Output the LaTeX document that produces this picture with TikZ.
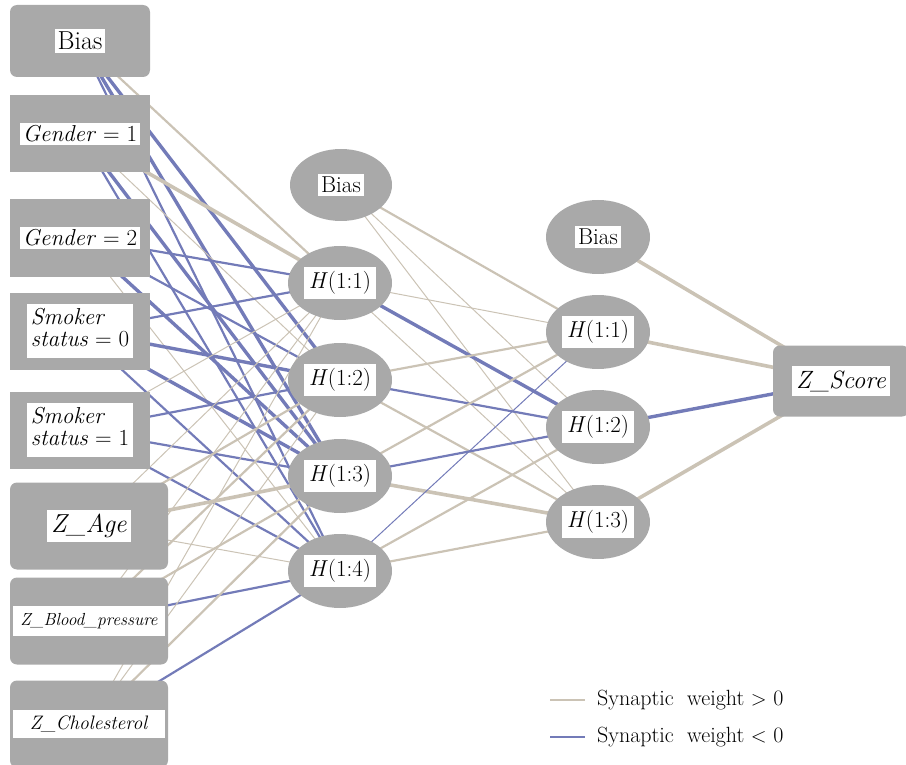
\documentclass[tikz,border=0pt]{standalone}
\usetikzlibrary{shapes.geometric,backgrounds}
\definecolor{Pc}{HTML}{CBC3B5}
\definecolor{Nc}{HTML}{737BB8}
\definecolor{Gc}{HTML}{A9A9A9}
\newcommand{\lbl}[2][3pt]{{\setlength{\fboxsep}{#1}\colorbox{white}{#2}}}
\newcommand{\fs}[1]{\fontsize{#1}{#1}\selectfont}
\tikzset{
  inbox/.style={rectangle, fill=Gc, inner sep=0pt, minimum width=140pt, minimum height=77pt, font=\fs{23}},
  zbox/.style={inbox, rounded corners=7pt, minimum width=158pt, minimum height=87pt},
  hid/.style={ellipse, fill=Gc, inner sep=0pt, minimum width=104pt, minimum height=74pt, font=\fs{23}},
  pthin/.style={Pc, line width=1pt},
  pmid/.style={Pc, line width=2.2pt},
  pthick/.style={Pc, line width=3.6pt},
  nthin/.style={Nc, line width=1pt},
  nmid/.style={Nc, line width=2.2pt},
  nthick/.style={Nc, line width=3.4pt},
}

\begin{document}
\begin{tikzpicture}[x=1pt, y=-1pt]
  \useasboundingbox (0,0) rectangle (906,765);
  % input layer
  \node[inbox, rounded corners=7pt, minimum height=72pt] (inb) at (80,41) {\lbl{\fs{26}Bias}};
  \node[inbox] (ing1) at (80,134) {\lbl{\textit{Gender} = 1}};
  \node[inbox] (ing2) at (80,238) {\lbl{\textit{Gender} = 2}};
  \node[inbox] (ins0) at (80,331) {\lbl[4pt]{\begin{tabular}{@{}l@{}}\textit{Smoker}\\[-1pt]\textit{status} = 0\end{tabular}}};
  \node[inbox] (ins1) at (80,430) {\lbl[4pt]{\begin{tabular}{@{}l@{}}\textit{Smoker}\\[-1pt]\textit{status} = 1\end{tabular}}};
  \node[zbox] (inage) at (89,526) {\lbl[4pt]{\fs{26}\textit{Z\_Age}}};
  \node[zbox] (inbp) at (89,621) {\lbl[7pt]{\makebox[138pt]{\fs{17.5}\textit{Z\_Blood\_pressure}}}};
  \node[zbox] (inchol) at (89,724) {\lbl[6pt]{\makebox[140pt]{\fs{19.5}\textit{Z\_Cholesterol}}}};
  % first hidden layer
  \node[hid, minimum width=102pt, minimum height=72pt] (hb) at (341,185) {\lbl{Bias}};
  \node[hid] (h1) at (340,283) {\lbl[5pt]{\textit{H}(1:1)}};
  \node[hid] (h2) at (340,380) {\lbl[5pt]{\textit{H}(1:2)}};
  \node[hid] (h3) at (340,476) {\lbl[5pt]{\textit{H}(1:3)}};
  \node[hid] (h4) at (340,571) {\lbl[5pt]{\textit{H}(1:4)}};
  % second hidden layer
  \node[hid] (gb) at (598,237) {\lbl{Bias}};
  \node[hid] (g1) at (598,332) {\lbl[5pt]{\textit{H}(1:1)}};
  \node[hid] (g2) at (598,427) {\lbl[5pt]{\textit{H}(1:2)}};
  \node[hid] (g3) at (598,522) {\lbl[5pt]{\textit{H}(1:3)}};
  % output
  \node[inbox, rounded corners=7pt, minimum width=136pt, minimum height=71pt] (zs) at (841,381) {\lbl[4pt]{\fs{25}\textit{Z\_Score}}};
  % synaptic weights
  \begin{scope}[on background layer]
    \foreach \s/\t/\w in {inb/h1/pmid, inb/h2/nthick, inb/h3/nthick, inb/h4/nmid,
        ing1/h1/pthick, ing1/h2/pthin, ing1/h3/nthick, ing1/h4/nmid,
        ing2/h1/nmid, ing2/h2/nmid, ing2/h3/nthick, ing2/h4/pthin,
        ins0/h1/nmid, ins0/h2/nthick, ins0/h3/nthick, ins0/h4/nmid,
        ins1/h1/pthin, ins1/h2/nmid, ins1/h3/nmid, ins1/h4/nmid,
        inage/h1/pthin, inage/h2/pmid, inage/h3/pthick, inage/h4/pthin,
        inbp/h1/pthin, inbp/h2/pmid, inbp/h3/pmid, inbp/h4/nmid,
        inchol/h1/pthin, inchol/h2/pthin, inchol/h3/pmid, inchol/h4/nmid,
        hb/g1/pmid, hb/g2/pthin, hb/g3/pthin,
        h1/g1/pthin, h1/g2/nthick, h1/g3/pthin,
        h2/g1/pmid, h2/g2/nmid, h2/g3/pmid,
        h3/g1/pmid, h3/g2/nmid, h3/g3/pthick,
        h4/g1/nthin, h4/g2/pmid, h4/g3/pmid,
        gb/zs/pthick, g1/zs/pthick, g2/zs/nthick, g3/zs/pthick}
      \draw[\w] (\s.center) -- (\t.center);
  \end{scope}
  % legend
  \node[anchor=west, inner sep=0pt, font=\fs{22}] (legp) at (597,700) {Synaptic~~weight $>$ 0};
  \node[anchor=west, inner sep=0pt, font=\fs{22}] (legn) at (597,737) {Synaptic~~weight $<$ 0};
  \coordinate (lp) at (550,700);
  \coordinate (ln) at (550,737);
  \draw[Pc, line width=2pt] (lp) -- ([xshift=-12pt]legp.west);
  \draw[Nc, line width=2pt] (ln) -- ([xshift=-12pt]legn.west);
\end{tikzpicture}
\end{document}
